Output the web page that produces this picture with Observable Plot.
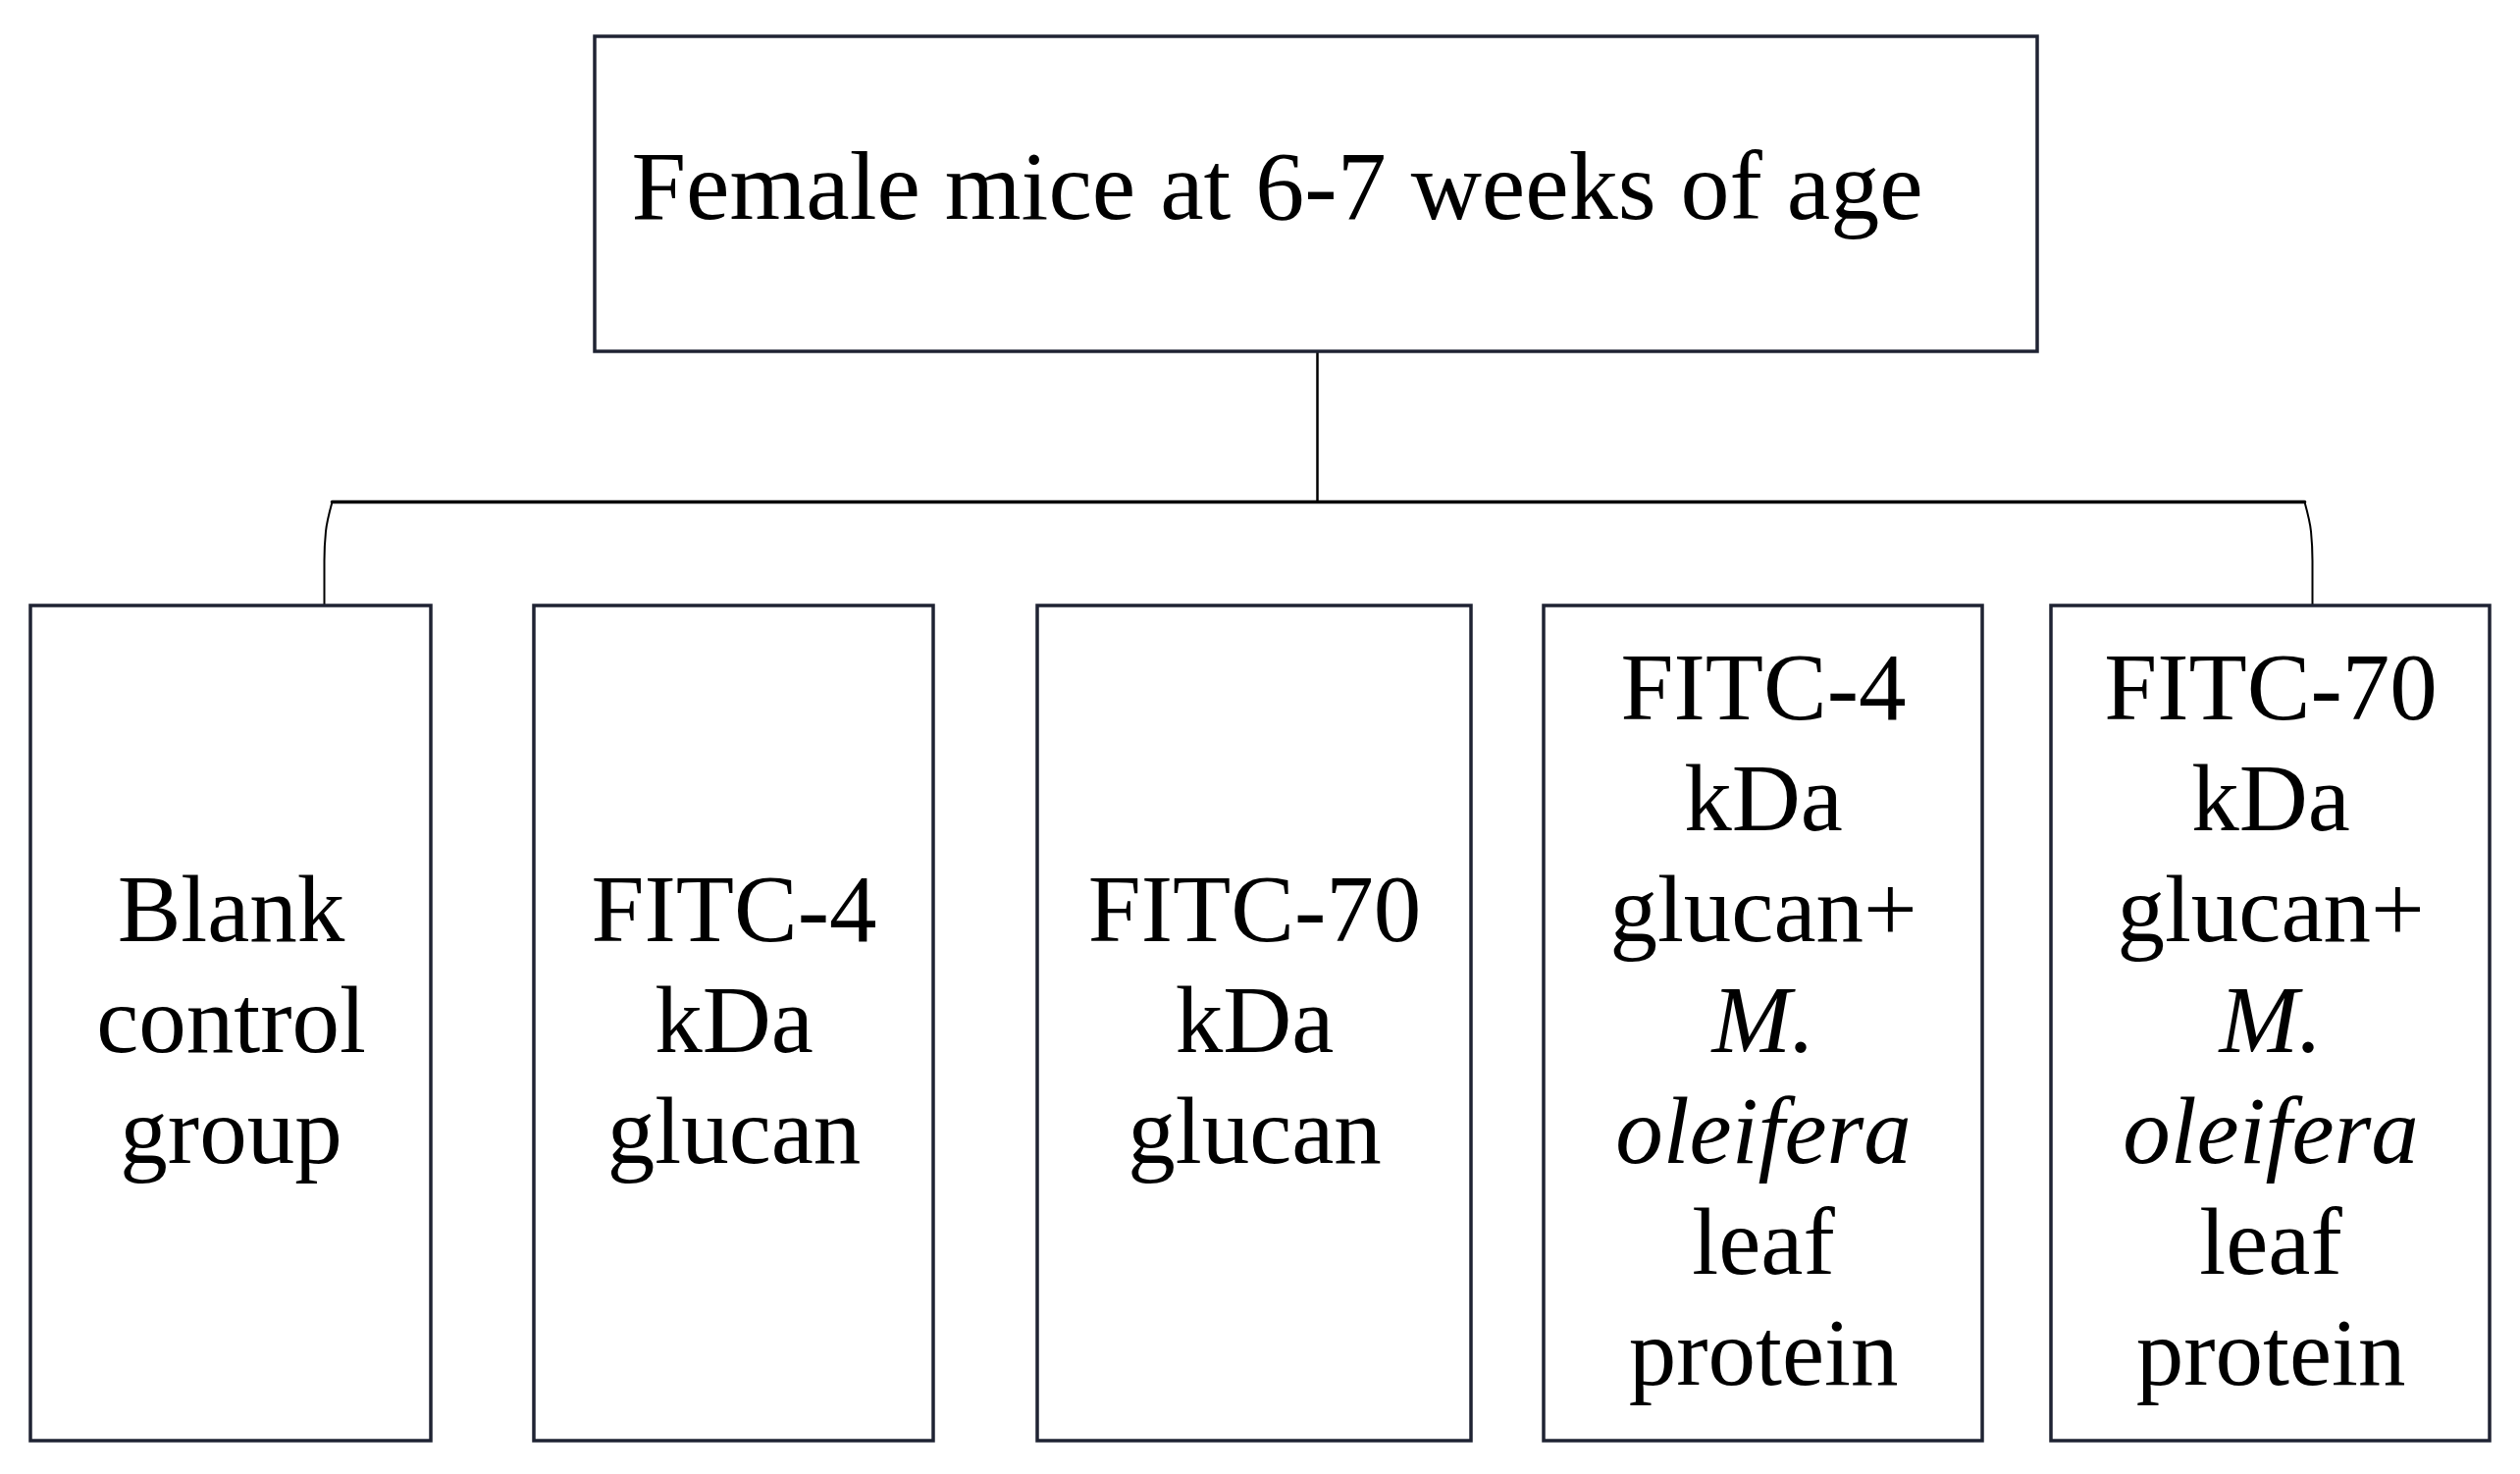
<!DOCTYPE html>
<html>
<head>
<meta charset="utf-8">
<script src="https://cdn.jsdelivr.net/npm/d3@7"></script>
<script src="https://cdn.jsdelivr.net/npm/@observablehq/plot@0.6"></script>
<style>
  html, body { margin: 0; padding: 0; background: #ffffff; overflow: hidden; }
  #chart svg { display: block; }
</style>
</head>
<body>
<div id="chart"></div>
<script>
/* ---- Data: labels of the study-design tree ---- */
const rootLabel = 'Female mice at 6-7 weeks of age';
const groupNames = [
  'Blank control group',
  'FITC-4 kDa glucan',
  'FITC-70 kDa glucan',
  'FITC-4 kDa glucan + M. oleifera leaf protein',
  'FITC-70 kDa glucan + M. oleifera leaf protein'
];
const groupLines = [
  ['Blank', 'control', 'group'],
  ['FITC-4', 'kDa', 'glucan'],
  ['FITC-70', 'kDa', 'glucan'],
  ['FITC-4', 'kDa', 'glucan+', 'M.', 'oleifera', 'leaf', 'protein'],
  ['FITC-70', 'kDa', 'glucan+', 'M.', 'oleifera', 'leaf', 'protein']
];
const italicWords = ['M.', 'oleifera'];

(function () {
  'use strict';

  const W = 2568, H = 1502;

  /* ---- Layout (pixel space, fed through the x/y scales) ---- */
  const root = { x1: 606, x2: 2076, y1: 37, y2: 358, textX: 643, baseline: 222 };
  const boxLeft = [31, 544, 1057, 1573, 2090];
  const boxRight = [439, 951, 1499, 2020, 2537];
  const boxTop = 617, boxBottom = 1468;
  const busY = 511, stemX = 1342;
  const dropLeft = 330, dropRight = 2356, bend = 8;
  const lineStep = 113, baselineShift = 29;
  const font = "'Liberation Serif', 'Times New Roman', serif";
  const boxStroke = '#1f2333';

  const boxes = groupNames.map((name, i) => ({
    name, x1: boxLeft[i], x2: boxRight[i], y1: boxTop, y2: boxBottom
  }));

  const words = [];
  groupLines.forEach((lines, i) => {
    const cx = (boxLeft[i] + boxRight[i]) / 2;
    const cy = (boxTop + boxBottom) / 2 + baselineShift;
    lines.forEach((t, j) => {
      words.push({
        text: t,
        x: cx,
        y: cy + (j - (lines.length - 1) / 2) * lineStep,
        italic: italicWords.includes(t)
      });
    });
  });

  // connectors: stem from root box, bus, curved drops at both ends
  const stem = [{ x: stemX, y: root.y2 }, { x: stemX, y: busY }];
  const bus = [{ x: dropLeft + bend, y: busY }, { x: dropRight - bend, y: busY }];
  const dropL = [
    { x: dropLeft + bend, y: busY },
    { x: dropLeft + 1.5, y: busY + 30 },
    { x: dropLeft, y: busY + 60 },
    { x: dropLeft, y: boxTop }
  ];
  const dropR = [
    { x: dropRight - bend, y: busY },
    { x: dropRight - 1.5, y: busY + 30 },
    { x: dropRight, y: busY + 60 },
    { x: dropRight, y: boxTop }
  ];

  const chart = Plot.plot({
    width: W,
    height: H,
    margin: 0,
    style: { background: '#ffffff', fontFamily: font },
    x: { domain: [0, W], range: [0, W], axis: null },
    y: { domain: [0, H], range: [0, H], axis: null },
    marks: [
      Plot.line(stem, { x: 'x', y: 'y', stroke: '#000', strokeWidth: 2.5 }),
      Plot.line(bus, { x: 'x', y: 'y', stroke: '#000', strokeWidth: 3.5 }),
      Plot.line(dropL, { x: 'x', y: 'y', stroke: '#000', strokeWidth: 2, curve: 'monotone-y' }),
      Plot.line(dropR, { x: 'x', y: 'y', stroke: '#000', strokeWidth: 2, curve: 'monotone-y' }),
      Plot.rect([root], {
        x1: 'x1', x2: 'x2', y1: 'y1', y2: 'y2',
        fill: '#ffffff', stroke: boxStroke, strokeWidth: 3.5
      }),
      Plot.text([rootLabel], {
        x: () => root.textX, y: () => root.baseline, text: d => d,
        textAnchor: 'start', lineAnchor: 'bottom',
        fontSize: 100, fill: '#000', fontFamily: font
      }),
      Plot.rect(boxes, {
        x1: 'x1', x2: 'x2', y1: 'y1', y2: 'y2',
        fill: '#ffffff', stroke: boxStroke, strokeWidth: 3.5,
        title: 'name'
      }),
      Plot.text(words.filter(d => !d.italic), {
        x: 'x', y: 'y', text: 'text',
        textAnchor: 'middle', lineAnchor: 'bottom',
        fontSize: 97, fill: '#000', fontFamily: font
      }),
      Plot.text(words.filter(d => d.italic), {
        x: 'x', y: 'y', text: 'text',
        textAnchor: 'middle', lineAnchor: 'bottom',
        fontSize: 97, fill: '#000', fontFamily: font, fontStyle: 'italic'
      })
    ]
  });

  document.getElementById('chart').appendChild(chart);
})();
</script>
</body>
</html>
